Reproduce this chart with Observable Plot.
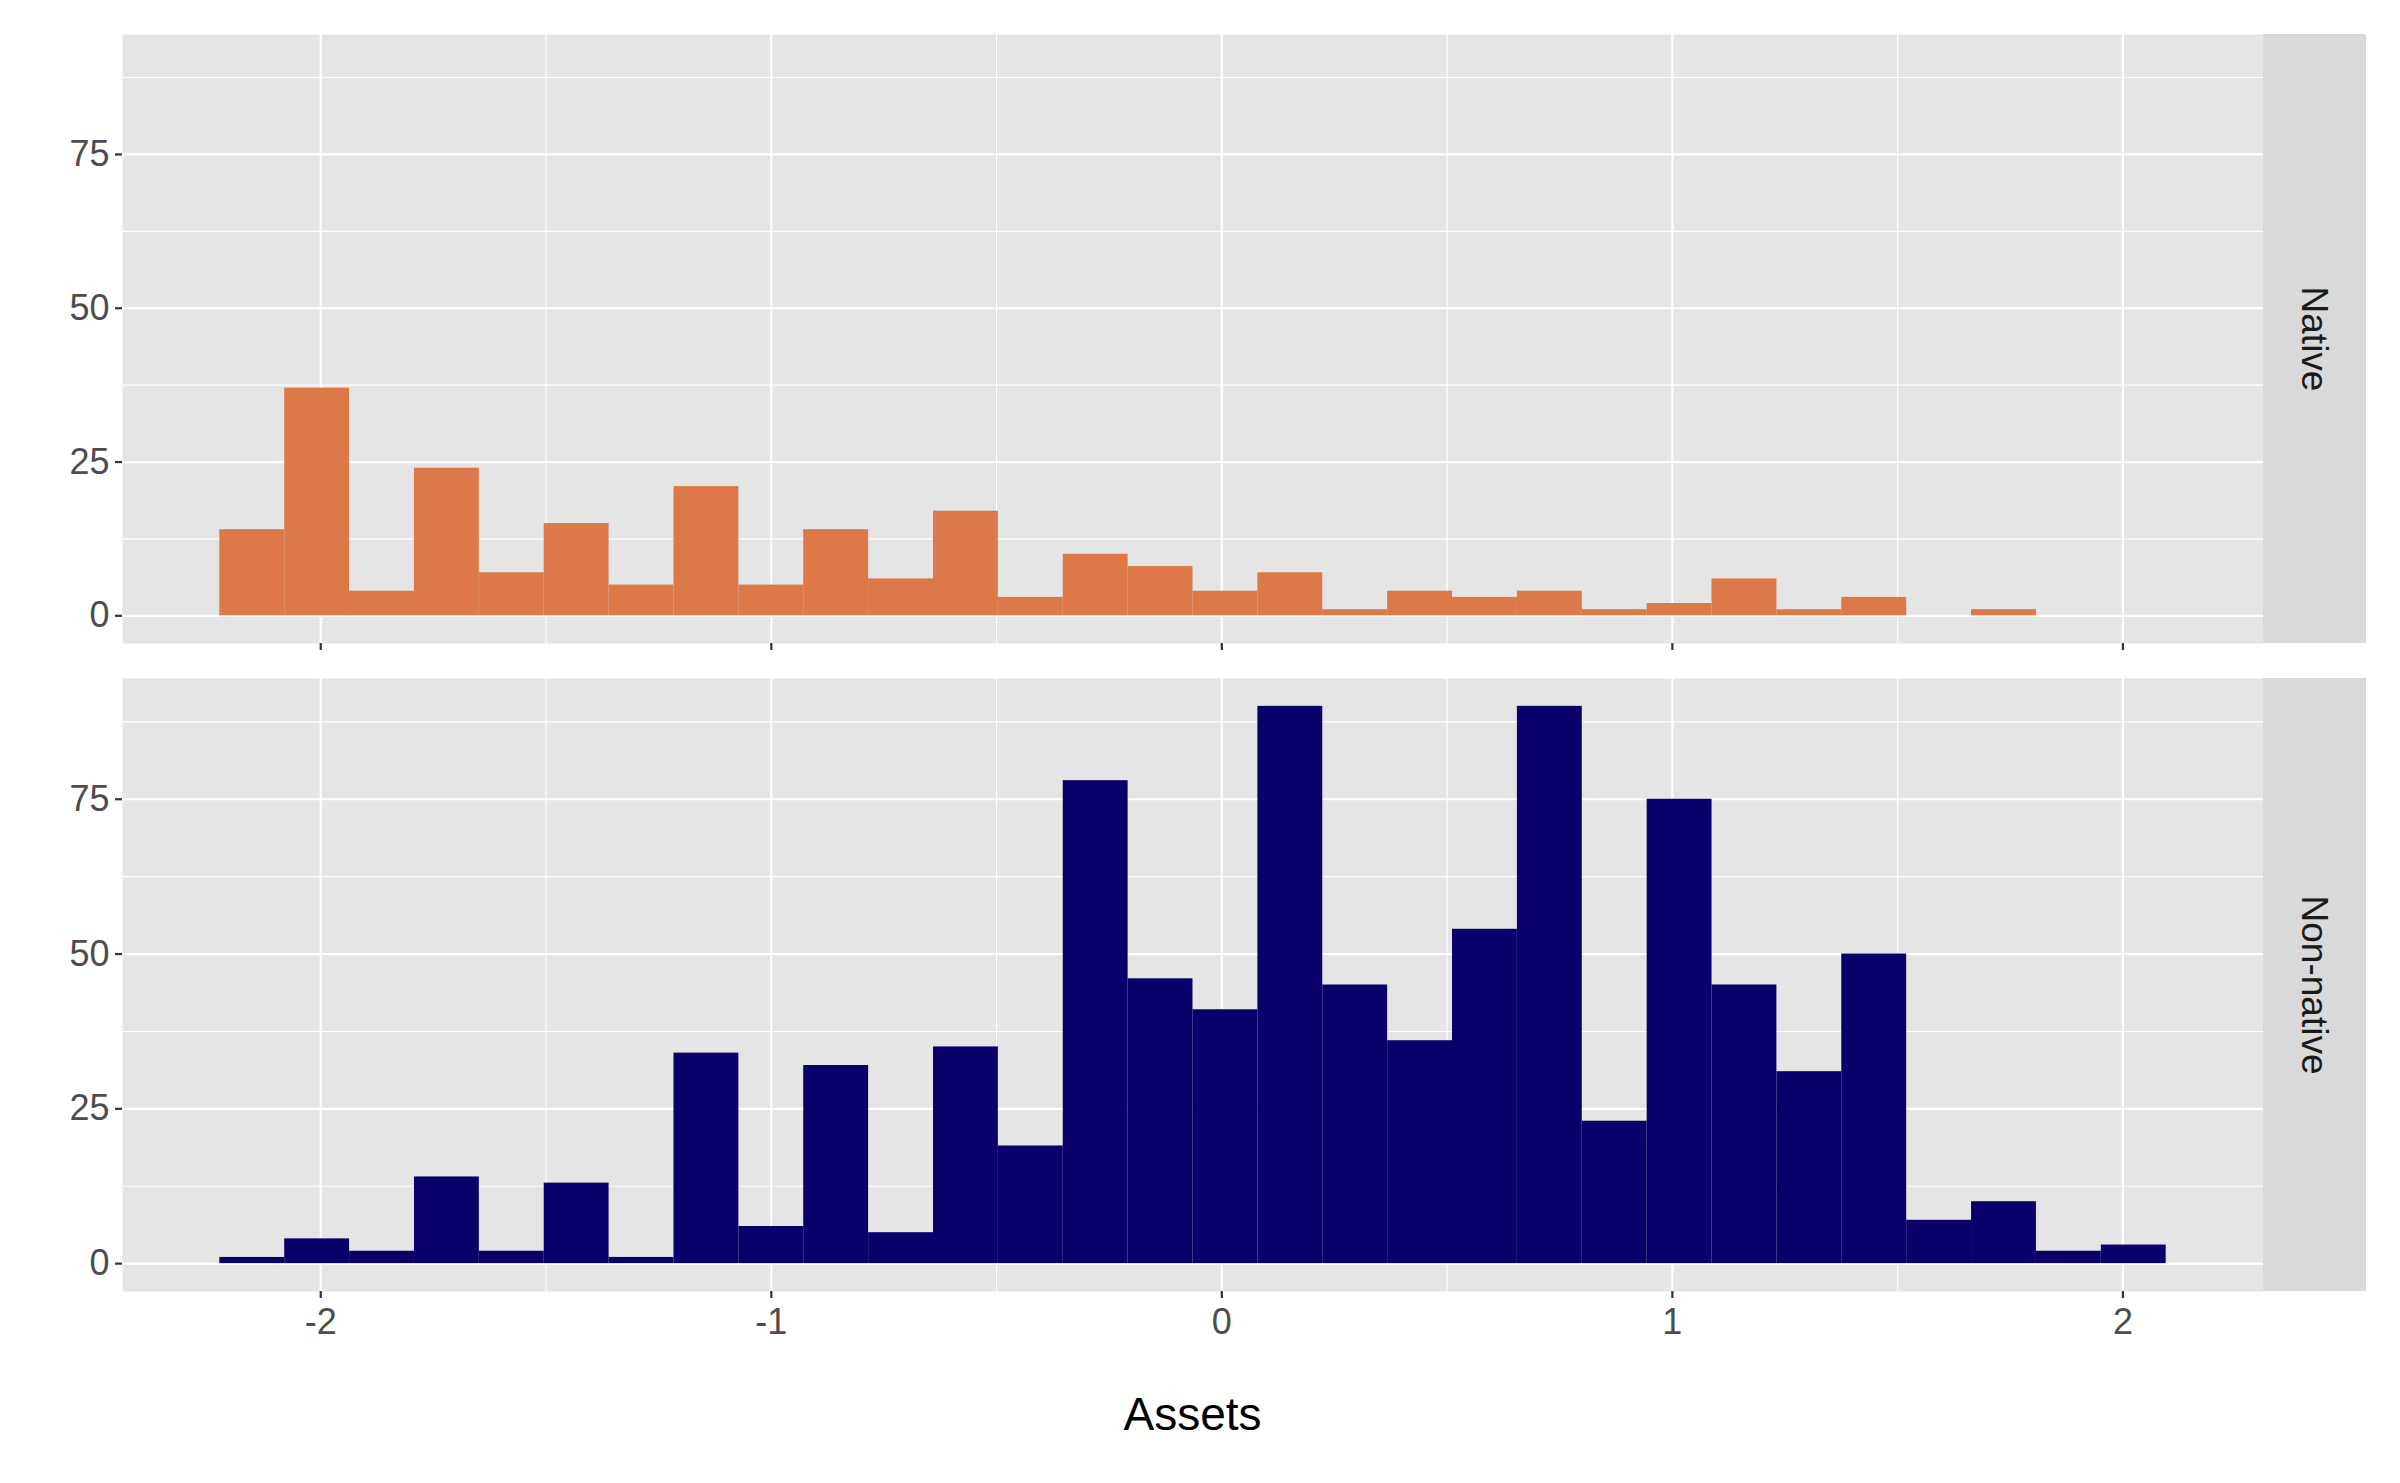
<html><head>
<script src="https://cdn.jsdelivr.net/npm/d3@7"></script>
<script src="https://cdn.jsdelivr.net/npm/@observablehq/plot@0.6"></script>
<style>
body{margin:0;background:#fff;font-family:"Liberation Sans",Arial,sans-serif}
#c{position:relative;width:2400px;height:1483px}
.p{position:absolute;left:0}
.strip{position:absolute;left:2263px;width:103px;background:#d9d9d9;display:flex;align-items:center;justify-content:center}
.strip span{transform:rotate(90deg);white-space:nowrap;font-size:37px;color:#1a1a1a}
</style></head><body><div id="c"></div>
<script>
const binStart = -2.224, binWidth = 0.144;
const nativeCounts = [14,37,4,24,7,15,5,21,5,14,6,17,3,10,8,4,7,1,4,3,4,1,2,6,1,3,0,1,0,0];
const nonNativeCounts = [1,4,2,14,2,13,1,34,6,32,5,35,19,78,46,41,90,45,36,54,90,23,75,45,31,50,7,10,2,3];
const groups = ["Native","Non-native"];
const colors = ["#dd7849","#0a006a"];
const xTicks = [-2,-1,0,1,2], xMinor = [-1.5,-0.5,0.5,1.5];
const yTicks = [0,25,50,75], yMinor = [12.5,37.5,62.5,87.5];

const c = document.getElementById("c");
function panel(counts, color, top, height, mt, mb, showX){
  const data = counts.map((v,i)=>({x1:binStart+i*binWidth, x2:binStart+(i+1)*binWidth, y:v}));
  const p = Plot.plot({
    width:2400, height, marginLeft:122, marginRight:137, marginTop:mt, marginBottom:mb,
    x:{domain:[-2.44,2.312]}, y:{domain:[-4.5,94.5]},
    style:{fontFamily:"Liberation Sans, Arial, sans-serif", fontSize:"36px", color:"#4d4d4d", background:"transparent"},
    marks:[
      Plot.frame({fill:"#e5e5e5", stroke:null}),
      Plot.ruleX(xMinor,{stroke:"#fff", strokeWidth:1.1}),
      Plot.ruleY(yMinor,{stroke:"#fff", strokeWidth:1.1}),
      Plot.ruleX(xTicks,{stroke:"#fff", strokeWidth:2.2}),
      Plot.ruleY(yTicks,{stroke:"#fff", strokeWidth:2.2}),
      Plot.rectY(data.filter(d=>d.y>0),{x1:"x1",x2:"x2",y1:0,y2:"y",fill:color,inset:0}),
      Plot.axisY({ticks:yTicks, tickSize:7, tickPadding:6, label:null, strokeWidth:2.2, stroke:"#333"}),
      showX ? Plot.axisX({ticks:xTicks, tickSize:7, tickPadding:10, label:null, tickFormat:d=>String(d), strokeWidth:2.2, stroke:"#333"})
            : Plot.axisX({ticks:xTicks, tickSize:7, tickFormat:()=>"", label:null, strokeWidth:2.2, stroke:"#333"})
    ]
  });
  p.classList.add("p"); p.style.top = top+"px";
  c.appendChild(p);
}
panel(nativeCounts, colors[0], 0, 660, 34, 17, false);
panel(nonNativeCounts, colors[1], 660, 823, 18, 192, true);
[[34,609,groups[0]],[678,613,groups[1]]].forEach(([t,h,g])=>{
  const d=document.createElement("div"); d.className="strip";
  d.style.top=t+"px"; d.style.height=h+"px"; d.innerHTML="<span>"+g+"</span>"; c.appendChild(d);
});
const t=document.createElement("div");
t.textContent="Assets";
t.style.cssText="position:absolute;left:122px;width:2141px;text-align:center;top:1387px;font-size:46px;color:#000";
c.appendChild(t);
</script></body></html>
